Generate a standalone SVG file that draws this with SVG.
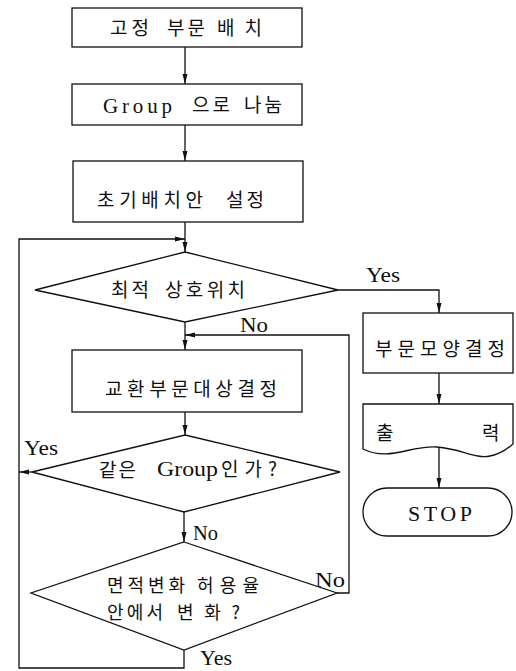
<svg xmlns="http://www.w3.org/2000/svg" width="516" height="671" viewBox="0 0 516 671">
<style>
.shape{fill:#fff;stroke:#111;stroke-width:1.3}
.line{fill:none;stroke:#111;stroke-width:1.3}
.ko{font-family:"Noto Sans CJK KR","Liberation Serif",sans-serif;font-size:19px;fill:#111}
.lat{font-family:"Liberation Serif","Noto Sans CJK KR",serif;font-size:20px;fill:#111}
</style>
<defs>
<marker id="arr" viewBox="0 0 10 6" refX="10" refY="3" markerWidth="10" markerHeight="6" markerUnits="userSpaceOnUse" orient="auto">
<path d="M0,0.5 L10,3 L0,5.5 Z" fill="#111"/>
</marker>
</defs>
<rect width="516" height="671" fill="#fff"/>
<g id="connectors">
<line class="line" x1="185" y1="47" x2="185" y2="84" marker-end="url(#arr)"/>
<line class="line" x1="185" y1="125" x2="185" y2="161" marker-end="url(#arr)"/>
<line class="line" x1="185" y1="222" x2="185" y2="252" marker-end="url(#arr)"/>
<polyline class="line" points="184,650 184,668 19,668 19,239 185,239" marker-end="url(#arr)"/>
<polyline class="line" points="338,290 439,290 439,313" marker-end="url(#arr)"/>
<line class="line" x1="185" y1="322" x2="185" y2="350" marker-end="url(#arr)"/>
<polyline class="line" points="337,593 349,593 349,335 185,335" marker-end="url(#arr)"/>
<line class="line" x1="185" y1="412" x2="185" y2="435" marker-end="url(#arr)"/>
<line class="line" x1="32" y1="472" x2="19" y2="472" marker-end="url(#arr)"/>
<line class="line" x1="184" y1="512" x2="184" y2="542" marker-end="url(#arr)"/>
<line class="line" x1="439" y1="373" x2="439" y2="404" marker-end="url(#arr)"/>
<line class="line" x1="439" y1="447" x2="439" y2="488" marker-end="url(#arr)"/>
<text class="lat" x="366" y="282" textLength="34" lengthAdjust="spacingAndGlyphs">Yes</text>
<text class="lat" x="240" y="332" textLength="28" lengthAdjust="spacingAndGlyphs">No</text>
<text class="lat" x="24" y="455" textLength="34" lengthAdjust="spacingAndGlyphs">Yes</text>
<text class="lat" x="193" y="540" textLength="25" lengthAdjust="spacingAndGlyphs">No</text>
<text class="lat" x="315" y="587" textLength="30" lengthAdjust="spacingAndGlyphs">No</text>
<text class="lat" x="200" y="665" textLength="32" lengthAdjust="spacingAndGlyphs">Yes</text>
</g>
<g id="n1">
<rect class="shape" x="72" y="8" width="230" height="39"/>
<text class="ko" y="35"><tspan x="110" textLength="39" lengthAdjust="spacing">고정</tspan> <tspan x="167" textLength="38" lengthAdjust="spacing">부문</tspan> <tspan x="217" textLength="45" lengthAdjust="spacing">배치</tspan></text>
</g>
<g id="n2">
<rect class="shape" x="72" y="84" width="230" height="41"/>
<text class="lat" y="113" style="font-size:21px"><tspan x="103">G</tspan><tspan x="122" textLength="50" lengthAdjust="spacing">roup</tspan> <tspan class="ko" x="192" y="112" textLength="38" lengthAdjust="spacing">으로</tspan> <tspan class="ko" x="244" y="112" textLength="38" lengthAdjust="spacing">나눔</tspan></text>
</g>
<g id="n3">
<rect class="shape" x="73" y="161" width="230" height="61"/>
<text class="ko" y="207"><tspan x="97" textLength="106" lengthAdjust="spacing">초기배치안</tspan> <tspan x="226" textLength="38" lengthAdjust="spacing">설정</tspan></text>
</g>
<g id="n4">
<polygon class="shape" points="185,252 338,290 185,322 35,290"/>
<text class="ko" y="297"><tspan x="111" textLength="38" lengthAdjust="spacing">최적</tspan> <tspan x="165" textLength="80" lengthAdjust="spacing">상호위치</tspan></text>
</g>
<g id="n5">
<rect class="shape" x="72" y="350" width="230" height="62"/>
<text class="ko" x="105" y="396" textLength="172" lengthAdjust="spacing">교환부문대상결정</text>
</g>
<g id="n6">
<polygon class="shape" points="185,435 340,472 184,512 32,472"/>
<text class="ko" y="477"><tspan x="99" textLength="37" lengthAdjust="spacing">같은</tspan> <tspan class="lat" x="157" y="476" style="font-size:21px" textLength="61" lengthAdjust="spacingAndGlyphs">Group</tspan> <tspan x="221" textLength="56" lengthAdjust="spacing">인가?</tspan></text>
</g>
<g id="n7">
<polygon class="shape" points="184,542 337,593 184,650 31,593"/>
<text class="ko" y="592" style="font-size:18px"><tspan x="107" textLength="78" lengthAdjust="spacing">면적변화</tspan> <tspan x="197" textLength="62" lengthAdjust="spacing">허용율</tspan></text>
<text class="ko" y="619" style="font-size:18px"><tspan x="107" textLength="56" lengthAdjust="spacing">안에서</tspan> <tspan x="177" textLength="63" lengthAdjust="spacing">변화?</tspan></text>
</g>
<g id="n8">
<rect class="shape" x="363" y="313" width="150" height="60"/>
<text class="ko" x="375" y="356" textLength="130" lengthAdjust="spacing">부문모양결정</text>
</g>
<g id="n9">
<path class="shape" d="M363,404 L513,404 L513,444 C508,448 502,454 490,456 C475,459 462,449 437,447 C410,445 390,462 363,449 Z"/>
<text class="ko" x="376" y="440">출</text>
<text class="ko" x="482" y="440">력</text>
</g>
<g id="n10">
<rect class="shape" x="363" y="488" width="149" height="48" rx="24" ry="24"/>
<text class="lat" x="408" y="521" style="font-size:22px" textLength="64" lengthAdjust="spacing">STOP</text>
</g>
</svg>
